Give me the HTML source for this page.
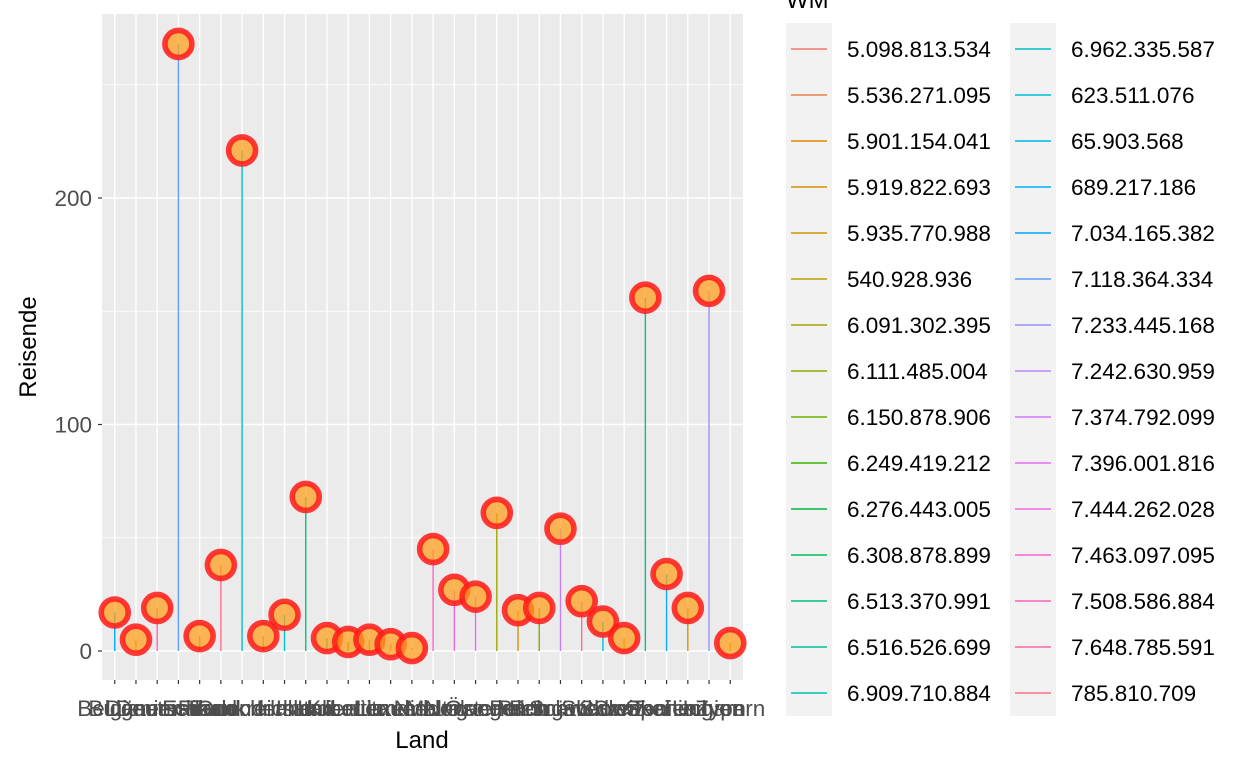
<!DOCTYPE html>
<html><head><meta charset="utf-8"><style>
body{margin:0;background:#fff;}
svg text{font-family:"Liberation Sans","DejaVu Sans",sans-serif;}
</style></head><body>
<svg id="c" width="1248" height="768"></svg>
<script>
const categories=["Belgien","Bulgarien","Dänemark","Deutschland","Estland","Finnland","Frankreich","Griechenland","Irland","Island","Italien","Kroatien","Lettland","Litauen","Luxemburg","Malta","Niederlande","Norwegen","Österreich","Polen","Portugal","Rumänien","Schweden","Schweiz","Slowakei","Slowenien","Spanien","Tschechien","Ungarn","Zypern"];
const reisende=[17,5,19,268,6.6,38,221,6.6,16,68,5.7,4,5,3,1.3,45,27,24,61,18,19,54,22,13,5.7,156,34,19,159,3.5];
const segColors=["#00A9FF","#E58700","#FF61C3","#619CFF","#C99800","#FF6C91","#00BCD8","#A3A500","#00BFC4","#00C08B","#00BF7D","#6BB100","#A3A500","#F8766D","#FF6A98","#FF61C3","#F564E3","#E76BF3","#9CA700","#D89000","#7CAE00","#C77CFF","#FF67A4","#00BCD8","#B79F00","#00BF96","#00ACFC","#D39200","#9590FF","#A3A500"];
const yTicks=[0,100,200];
const legendLabels=["5.098.813.534","5.536.271.095","5.901.154.041","5.919.822.693","5.935.770.988","540.928.936","6.091.302.395","6.111.485.004","6.150.878.906","6.249.419.212","6.276.443.005","6.308.878.899","6.513.370.991","6.516.526.699","6.909.710.884","6.962.335.587","623.511.076","65.903.568","689.217.186","7.034.165.382","7.118.364.334","7.233.445.168","7.242.630.959","7.374.792.099","7.396.001.816","7.444.262.028","7.463.097.095","7.508.586.884","7.648.785.591","785.810.709"];

const NS="http://www.w3.org/2000/svg";
const svg=document.getElementById('c');
function mk(tag,attrs,parent){const e=document.createElementNS(NS,tag);for(const k in attrs)e.setAttribute(k,attrs[k]);(parent||svg).appendChild(e);return e;}
const PL=102,PR=743,PT=14,PB=680;
const step=(PR-PL)/(categories.length-1+1.2);
const x=i=>PL+0.6*step+i*step;
const y=v=>651-v*2.265;

const bg=mk('rect',{x:PL,y:PT,width:PR-PL,height:PB-PT,fill:'#EBEBEB'});


[50,150,250].forEach(v=>{const l=mk('line',{x1:PL,x2:PR,y1:y(v),y2:y(v),stroke:'#fff','stroke-width':0.7});

});
yTicks.forEach(v=>{const l=mk('line',{x1:PL,x2:PR,y1:y(v),y2:y(v),stroke:'#fff','stroke-width':1.4});


mk('line',{x1:PL-4,x2:PL,y1:y(v),y2:y(v),stroke:'#333','stroke-width':1.2});
const t=mk('text',{x:PL-10,y:y(v)+8,'text-anchor':'end','font-size':22.5,fill:'#4D4D4D'});t.textContent=v;

});
categories.forEach((c,i)=>{const l=mk('line',{x1:x(i),x2:x(i),y1:PT,y2:PB,stroke:'#fff','stroke-width':1.4});


mk('line',{x1:x(i),x2:x(i),y1:PB,y2:PB+4,stroke:'#333','stroke-width':1.2});
const t=mk('text',{x:x(i),y:716,'text-anchor':'middle','font-size':22.5,fill:'#4D4D4D'});t.textContent=c;

});
categories.forEach((c,i)=>{const s=mk('line',{x1:x(i),x2:x(i),y1:y(0),y2:y(reisende[i]),stroke:segColors[i],'stroke-width':1.4});

});
categories.forEach((c,i)=>{const p=mk('circle',{cx:x(i),cy:y(reisende[i]),r:13.5,fill:'#FFA020','fill-opacity':0.75,stroke:'#FF1A1A','stroke-opacity':0.85,'stroke-width':5.6});

});
const yt=mk('text',{x:36,y:347,'text-anchor':'middle','font-size':24,fill:'#000',transform:'rotate(-90 36 347)'});yt.textContent='Reisende';


const xt=mk('text',{x:422,y:748,'text-anchor':'middle','font-size':24,fill:'#000'});xt.textContent='Land';


const lt=mk('text',{x:786,y:8,'font-size':24,fill:'#000'});lt.textContent='WM';


// ggplot hue palette (polar Luv)
function hcl(h){const L=65,C=100,hr=h*Math.PI/180;const u=C*Math.cos(hr),v=C*Math.sin(hr);
const Y=Math.pow((L+16)/116,3);const un=0.1978398,vn=0.4683363;
const up=u/(13*L)+un,vp=v/(13*L)+vn;
const X=Y*9*up/(4*vp),Z=Y*(12-3*up-20*vp)/(4*vp);
let r=3.2406*X-1.5372*Y-0.4986*Z,g=-0.9689*X+1.8758*Y+0.0415*Z,bb=0.0557*X-0.2040*Y+1.0570*Z;
const gm=q=>{q=q<=0.0031308?12.92*q:1.055*Math.pow(q,1/2.4)-0.055;return Math.round(Math.max(0,Math.min(1,q))*255);};
return `rgb(${gm(r)},${gm(g)},${gm(bb)})`;}
[786,1010].forEach(cx=>mk('rect',{x:cx,y:23,width:46,height:693,fill:'#F2F2F2'}));
legendLabels.forEach((lab,i)=>{const col=Math.floor(i/15),row=i%15;const kx=col?1010:786,ky=49+row*46;
const k=mk('line',{x1:kx+5,x2:kx+41,y1:ky,y2:ky,stroke:hcl(15+i*12),'stroke-width':1.4});


const t=mk('text',{x:kx+61,y:ky+8,'font-size':22.5,fill:'#000'});t.textContent=lab;

});
</script>
</body></html>
